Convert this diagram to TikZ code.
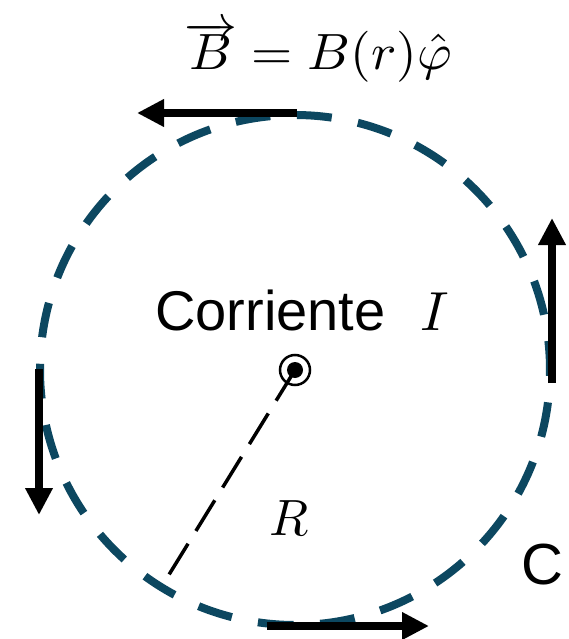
\documentclass[tikz,border=0pt]{standalone}
\usepackage{graphicx}
\usepackage{fontspec}
\setsansfont{Liberation Sans}
\usetikzlibrary{arrows.meta}
\definecolor{loopcol}{RGB}{12,71,96}
\begin{document}
\begin{tikzpicture}[x=1pt,y=-1pt,
  fieldarrow/.style={line width=8pt, -{Triangle[length=27pt,width=26pt]}},
  loopline/.style={draw=loopcol, line width=8pt, dash pattern=on 35pt off 26.6pt},
  radline/.style={line width=3.5pt, dash pattern=on 36pt off 15pt},
  lbl/.style={inner sep=0pt}]
\useasboundingbox (0,0) rectangle (568,639);
\coordinate (O) at (295,370);
\coordinate (P) at (162,586);
% Amperian loop C
\draw[loopline] (O) ++(90.5:255) arc[start angle=90.5, end angle=450.5, radius=255];
% radius
\draw[radline] (O) -- (P);
% current out of page
\draw[line width=2.5pt] (O) circle[radius=15];
\fill (O) circle[radius=8];
% field arrows
\coordinate (t1) at (297,113); \coordinate (t2) at (137,113);
\coordinate (l1) at (39,369);  \coordinate (l2) at (39,515);
\coordinate (r1) at (552,383); \coordinate (r2) at (552,218);
\coordinate (b1) at (267,626); \coordinate (b2) at (429,626);
\draw[fieldarrow] (t1) -- (t2);
\draw[fieldarrow] (l1) -- (l2);
\draw[fieldarrow] (r1) -- (r2);
\draw[fieldarrow] (b1) -- (b2);
% labels
\node[lbl, anchor=base] (formula) at (318,70) {\scalebox{5.3}[5.1]{$\overrightarrow{B} = B(r)\hat{\varphi}$}};
\node[lbl, anchor=base west] (cur) at (155,330) {\fontsize{56}{60}\selectfont\sffamily Corriente\hspace{0.62em}{\normalsize\scalebox{5.5}{$I$}}};
\node[lbl] (R) at (289,518) {\scalebox{5.1}{$R$}};
\node[lbl] (C) at (542,565) {\fontsize{58}{60}\selectfont\sffamily C};
\end{tikzpicture}
\end{document}
